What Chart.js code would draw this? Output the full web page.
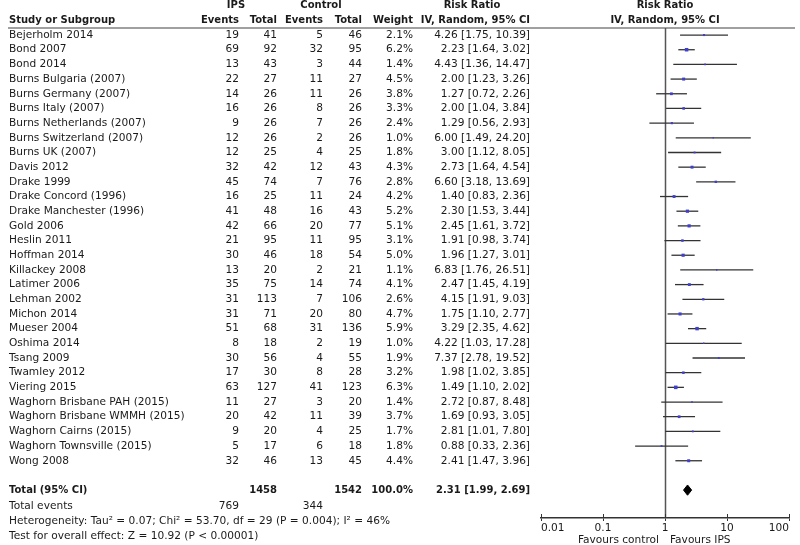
<!DOCTYPE html>
<html>
<head>
<meta charset="utf-8">
<script src="https://cdn.jsdelivr.net/npm/chart.js@4"></script>
<style>
  html, body { margin: 0; padding: 0; background: #ffffff; }
  canvas { display: block; }
</style>
</head>
<body>
<canvas id="c" width="800" height="545"></canvas>
<script>
// ---- data ----
const studies = [
  "Bejerholm 2014", "Bond 2007", "Bond 2014", "Burns Bulgaria (2007)", "Burns Germany (2007)",
  "Burns Italy (2007)", "Burns Netherlands (2007)", "Burns Switzerland (2007)", "Burns UK (2007)",
  "Davis 2012", "Drake 1999", "Drake Concord (1996)", "Drake Manchester (1996)", "Gold 2006",
  "Heslin 2011", "Hoffman 2014", "Killackey 2008", "Latimer 2006", "Lehman 2002", "Michon 2014",
  "Mueser 2004", "Oshima 2014", "Tsang 2009", "Twamley 2012", "Viering 2015",
  "Waghorn Brisbane PAH (2015)", "Waghorn Brisbane WMMH (2015)", "Waghorn Cairns (2015)",
  "Waghorn Townsville (2015)", "Wong 2008"
];
const ipsEvents = [19, 69, 13, 22, 14, 16, 9, 12, 12, 32, 45, 16, 41, 42, 21, 30, 13, 35, 31, 31, 51, 8, 30, 17, 63, 11, 20, 9, 5, 32];
const ipsTotal  = [41, 92, 43, 27, 26, 26, 26, 26, 25, 42, 74, 25, 48, 66, 95, 46, 20, 75, 113, 71, 68, 18, 56, 30, 127, 27, 42, 20, 17, 46];
const ctlEvents = [5, 32, 3, 11, 11, 8, 7, 2, 4, 12, 7, 11, 16, 20, 11, 18, 2, 14, 7, 20, 31, 2, 4, 8, 41, 3, 11, 4, 6, 13];
const ctlTotal  = [46, 95, 44, 27, 26, 26, 26, 26, 25, 43, 76, 24, 43, 77, 95, 54, 21, 74, 106, 80, 136, 19, 55, 28, 123, 20, 39, 25, 18, 45];
const weights   = [2.1, 6.2, 1.4, 4.5, 3.8, 3.3, 2.4, 1.0, 1.8, 4.3, 2.8, 4.2, 5.2, 5.1, 3.1, 5.0, 1.1, 4.1, 2.6, 4.7, 5.9, 1.0, 1.9, 3.2, 6.3, 1.4, 3.7, 1.7, 1.8, 4.4];
const riskRatio = [4.26, 2.23, 4.43, 2.00, 1.27, 2.00, 1.29, 6.00, 3.00, 2.73, 6.60, 1.40, 2.30, 2.45, 1.91, 1.96, 6.83, 2.47, 4.15, 1.75, 3.29, 4.22, 7.37, 1.98, 1.49, 2.72, 1.69, 2.81, 0.88, 2.41];
const ciLower   = [1.75, 1.64, 1.36, 1.23, 0.72, 1.04, 0.56, 1.49, 1.12, 1.64, 3.18, 0.83, 1.53, 1.61, 0.98, 1.27, 1.76, 1.45, 1.91, 1.10, 2.35, 1.03, 2.78, 1.02, 1.10, 0.87, 0.93, 1.01, 0.33, 1.47];
const ciUpper   = [10.39, 3.02, 14.47, 3.26, 2.26, 3.84, 2.93, 24.20, 8.05, 4.54, 13.69, 2.36, 3.44, 3.72, 3.74, 3.01, 26.51, 4.19, 9.03, 2.77, 4.62, 17.28, 19.52, 3.85, 2.02, 8.48, 3.05, 7.80, 2.36, 3.96];

const totalIps = 1458, totalCtl = 1542, totalWeight = 100.0;
const totalEventsIps = 769, totalEventsCtl = 344;
const pooled = [2.31, 1.99, 2.69]; // estimate, lower, upper
const heterogeneityText = "Heterogeneity: Tau\u00B2 = 0.07; Chi\u00B2 = 53.70, df = 29 (P = 0.004); I\u00B2 = 46%";
const overallText = "Test for overall effect: Z = 10.92 (P < 0.00001)";
const xTicks = [0.01, 0.1, 1, 10, 100];
const favourLeft = "Favours control", favourRight = "Favours IPS";

// ---- layout helpers ----
const totalRow = studies.length + 1;
const FONT = '"DejaVu Sans", Verdana, sans-serif';
const TXT = '#1a1a1a';
const fmt2 = v => v.toFixed(2);
const ciText = (r, l, u) => `${fmt2(r)} [${fmt2(l)}, ${fmt2(u)}]`;

const datasets = [];
// squares (drawn on top)
datasets.push({
  type: 'scatter',
  data: studies.map((s, i) => ({ x: riskRatio[i], y: i })),
  pointStyle: 'rect',
  pointRadius: weights.map(w => Math.sqrt(w) * 1.0),
  backgroundColor: '#4040cc',
  borderWidth: 0,
  order: 0
});
// diamond
datasets.push({
  type: 'line',
  data: [
    { x: pooled[1], y: totalRow },
    { x: pooled[0], y: totalRow - 0.35 },
    { x: pooled[2], y: totalRow },
    { x: pooled[0], y: totalRow + 0.35 },
    { x: pooled[1], y: totalRow }
  ],
  borderColor: '#000',
  borderWidth: 1,
  backgroundColor: '#000',
  fill: 'shape',
  pointRadius: 0,
  tension: 0,
  order: 1
});
// CI lines
studies.forEach((s, i) => {
  datasets.push({
    type: 'line',
    data: [{ x: ciLower[i], y: i }, { x: ciUpper[i], y: i }],
    borderColor: '#333',
    borderWidth: 1.3,
    pointRadius: 0,
    fill: false,
    order: 2
  });
});

const tablePlugin = {
  id: 'forestTable',
  beforeDatasetsDraw(chart) {
    const ctx = chart.ctx, xs = chart.scales.x, ca = chart.chartArea;
    ctx.save();
    // header rule
    ctx.strokeStyle = '#808080';
    ctx.lineWidth = 1.5;
    ctx.beginPath();
    ctx.moveTo(8, ca.top); ctx.lineTo(795, ca.top);
    ctx.stroke();
    // null line
    const x1 = Math.round(xs.getPixelForValue(1)) + 0.5;
    ctx.strokeStyle = '#555';
    ctx.lineWidth = 1.5;
    ctx.beginPath();
    ctx.moveTo(x1, ca.top); ctx.lineTo(x1, ca.bottom);
    ctx.stroke();
    // upward part of axis tick marks
    ctx.strokeStyle = '#333';
    ctx.lineWidth = 1;
    xTicks.forEach(t => {
      const px = Math.round(xs.getPixelForValue(t)) + 0.5;
      ctx.beginPath(); ctx.moveTo(px, ca.bottom - 4); ctx.lineTo(px, ca.bottom); ctx.stroke();
    });
    ctx.restore();
  },
  afterDraw(chart) {
    const ctx = chart.ctx, ys = chart.scales.y, xs = chart.scales.x;
    const Y = r => ys.getPixelForValue(r);
    ctx.save();
    ctx.fillStyle = TXT;
    ctx.textBaseline = 'middle';
    const put = (t, x, y, align, bold) => {
      ctx.font = bold ? ('bold 10px ' + FONT) : ('10.6px ' + FONT);
      ctx.textAlign = align;
      ctx.fillText(t, x, y);
    };
    const cEvI = 239, cTotI = 277, cEvC = 323, cTotC = 362, cW = 413, cCI = 530, cName = 9;
    // headers
    put('IPS', 236, Y(-2), 'center', true);
    put('Control', 321, Y(-2), 'center', true);
    put('Risk Ratio', 472, Y(-2), 'center', true);
    put('Risk Ratio', xs.getPixelForValue(1), Y(-2), 'center', true);
    put('Study or Subgroup', cName, Y(-1), 'left', true);
    put('Events', cEvI, Y(-1), 'right', true);
    put('Total', cTotI, Y(-1), 'right', true);
    put('Events', cEvC, Y(-1), 'right', true);
    put('Total', cTotC, Y(-1), 'right', true);
    put('Weight', cW, Y(-1), 'right', true);
    put('IV, Random, 95% CI', cCI, Y(-1), 'right', true);
    put('IV, Random, 95% CI', xs.getPixelForValue(1), Y(-1), 'center', true);
    // rows
    studies.forEach((s, i) => {
      const y = Y(i);
      put(s, cName, y, 'left', false);
      put(String(ipsEvents[i]), cEvI, y, 'right', false);
      put(String(ipsTotal[i]), cTotI, y, 'right', false);
      put(String(ctlEvents[i]), cEvC, y, 'right', false);
      put(String(ctlTotal[i]), cTotC, y, 'right', false);
      put(weights[i].toFixed(1) + '%', cW, y, 'right', false);
      put(ciText(riskRatio[i], ciLower[i], ciUpper[i]), cCI, y, 'right', false);
    });
    // totals
    const yt = Y(totalRow);
    put('Total (95% CI)', cName, yt, 'left', true);
    put(String(totalIps), cTotI, yt, 'right', true);
    put(String(totalCtl), cTotC, yt, 'right', true);
    put(totalWeight.toFixed(1) + '%', cW, yt, 'right', true);
    put(ciText(pooled[0], pooled[1], pooled[2]), cCI, yt, 'right', true);
    put('Total events', cName, Y(totalRow + 1.07), 'left', false);
    put(String(totalEventsIps), cEvI, Y(totalRow + 1.07), 'right', false);
    put(String(totalEventsCtl), cEvC, Y(totalRow + 1.07), 'right', false);
    put(heterogeneityText, cName, Y(totalRow + 2.1), 'left', false);
    put(overallText, cName, Y(totalRow + 3.12), 'left', false);
    // favours labels
    const x1 = xs.getPixelForValue(1);
    put(favourLeft, x1 - 6, 540, 'right', false);
    put(favourRight, x1 + 5, 540, 'left', false);
    ctx.restore();
  }
};

new Chart(document.getElementById('c'), {
  type: 'scatter',
  data: { datasets },
  options: {
    responsive: false,
    devicePixelRatio: 1,
    animation: false,
    layout: { padding: { left: 541, right: 11, top: 28, bottom: 0 } },
    plugins: { legend: { display: false }, tooltip: { enabled: false } },
    scales: {
      x: {
        type: 'logarithmic',
        min: xTicks[0],
        max: xTicks[xTicks.length - 1],
        afterBuildTicks: sc => { sc.ticks = xTicks.map(v => ({ value: v })); },
        afterFit: sc => { sc.height = 27; },
        grid: { display: true, drawOnChartArea: false, tickLength: 3, color: '#333', lineWidth: 1 },
        border: { display: true, color: '#333', width: 1.5 },
        ticks: {
          align: 'inner',
          padding: 1,
          autoSkip: false,
          maxRotation: 0,
          color: TXT,
          font: { family: FONT, size: 10.6 },
          callback: v => String(v)
        }
      },
      y: {
        type: 'linear',
        reverse: true,
        min: -0.48,
        max: 32.9,
        display: false
      }
    }
  },
  plugins: [tablePlugin]
});
</script>
</body>
</html>
